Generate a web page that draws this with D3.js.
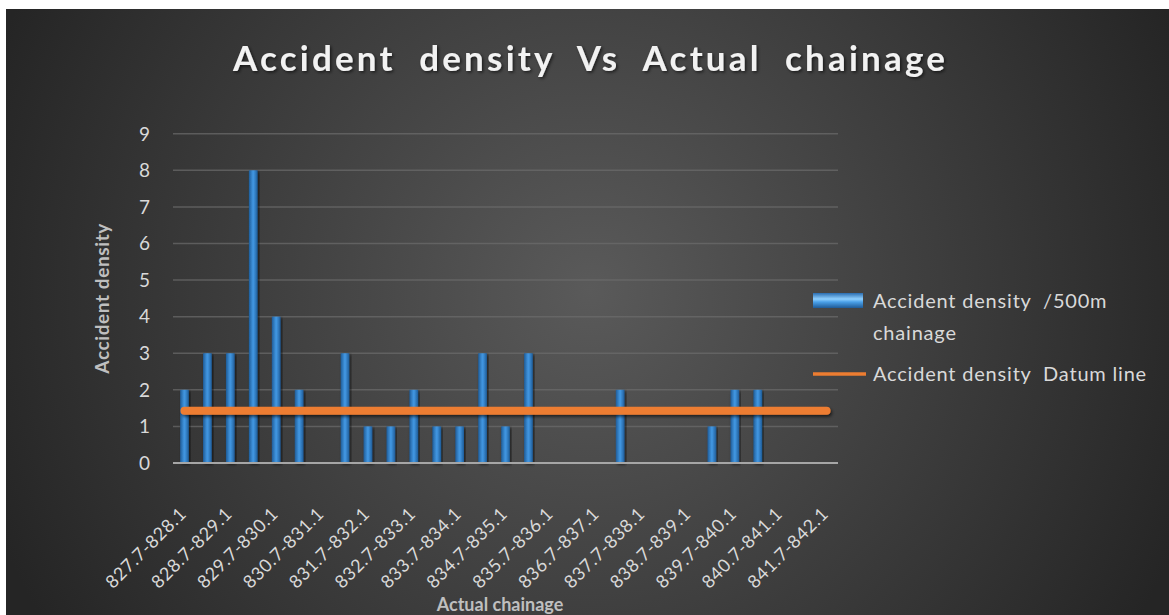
<!DOCTYPE html>
<html>
<head>
<meta charset="utf-8">
<script src="https://cdn.jsdelivr.net/npm/d3@7"></script>
<style>
  body { margin: 0; background: #fff; }
  svg { display: block; font-family: Lato, "Open Sans", sans-serif; }
  text { white-space: pre; }
</style>
</head>
<body>
<svg id="chart" width="1169" height="615"></svg>
<script>
// chainage ranges (every other one is labelled on the axis)
const chainages = [
  "827.7-828.1", "828.2-828.6", "828.7-829.1", "829.2-829.6", "829.7-830.1",
  "830.2-830.6", "830.7-831.1", "831.2-831.6", "831.7-832.1", "832.2-832.6",
  "832.7-833.1", "833.2-833.6", "833.7-834.1", "834.2-834.6", "834.7-835.1",
  "835.2-835.6", "835.7-836.1", "836.2-836.6", "836.7-837.1", "837.2-837.6",
  "837.7-838.1", "838.2-838.6", "838.7-839.1", "839.2-839.6", "839.7-840.1",
  "840.2-840.6", "840.7-841.1", "841.2-841.6", "841.7-842.1"
];
const density = [2, 3, 3, 8, 4, 2, 0, 3, 1, 1, 2, 1, 1, 3, 1, 3, 0, 0, 0, 2, 0, 0, 0, 1, 2, 2, 0, 0, 0];
const datum = 1.43;
const yTicks = [0, 1, 2, 3, 4, 5, 6, 7, 8, 9];

const svg = d3.select("#chart");
const defs = svg.append("defs");

const bg = defs.append("radialGradient").attr("id", "bg")
  .attr("gradientUnits", "userSpaceOnUse")
  .attr("cx", 590).attr("cy", 290).attr("r", 640);
bg.append("stop").attr("offset", 0).attr("stop-color", "#5a5a5a");
bg.append("stop").attr("offset", 1).attr("stop-color", "#252525");

const barGrad = defs.append("linearGradient").attr("id", "barGrad")
  .attr("x1", 0).attr("x2", 1).attr("y1", 0).attr("y2", 0);
barGrad.append("stop").attr("offset", 0).attr("stop-color", "#1f5c98");
barGrad.append("stop").attr("offset", 0.45).attr("stop-color", "#4094de");
barGrad.append("stop").attr("offset", 0.55).attr("stop-color", "#4094de");
barGrad.append("stop").attr("offset", 1).attr("stop-color", "#1f5c98");

const legGrad = defs.append("linearGradient").attr("id", "legGrad")
  .attr("x1", 0).attr("x2", 0).attr("y1", 0).attr("y2", 1);
legGrad.append("stop").attr("offset", 0).attr("stop-color", "#2a6db0");
legGrad.append("stop").attr("offset", 0.4).attr("stop-color", "#8fd0ff");
legGrad.append("stop").attr("offset", 0.6).attr("stop-color", "#4aa0e8");
legGrad.append("stop").attr("offset", 1).attr("stop-color", "#1f5a96");

const shadow = defs.append("filter").attr("id", "shadow")
  .attr("x", "-20%").attr("y", "-20%").attr("width", "140%").attr("height", "140%");
shadow.append("feDropShadow").attr("dx", 1.5).attr("dy", 1.5)
  .attr("stdDeviation", 1.5).attr("flood-color", "#000").attr("flood-opacity", 0.6);

// flat line has a zero-height box, so its shadow needs a fixed region
const lineShadow = defs.append("filter").attr("id", "lineShadow")
  .attr("filterUnits", "userSpaceOnUse")
  .attr("x", 0).attr("y", 0).attr("width", 1169).attr("height", 615);
lineShadow.append("feDropShadow").attr("dx", 1.5).attr("dy", 2)
  .attr("stdDeviation", 1.5).attr("flood-color", "#000").attr("flood-opacity", 0.6);

svg.append("rect")
  .attr("x", 6).attr("y", 9).attr("width", 1163).attr("height", 606)
  .attr("fill", "url(#bg)");

const x = d3.scaleBand()
  .domain(chainages)
  .range([173, 838])
  .paddingInner(0.62)
  .paddingOuter(0.31);

const y = d3.scaleLinear().domain([0, 9]).range([463, 133.7]);

// gridlines
svg.append("g")
  .selectAll("line")
  .data(yTicks.slice(1))
  .join("line")
    .attr("x1", 173).attr("x2", 838)
    .attr("y1", d => y(d)).attr("y2", d => y(d))
    .attr("stroke", "#6c6c6c")
    .attr("stroke-width", 1.5)
    .attr("stroke-opacity", 0.7);

// y axis labels
svg.append("g").attr("class", "axis axis--y")
  .selectAll("text")
  .data(yTicks)
  .join("text")
    .attr("x", 150)
    .attr("y", d => y(d))
    .attr("dy", "0.36em")
    .attr("text-anchor", "end")
    .attr("fill", "#d9d9d9")
    .style("font-size", "19px")
    .text(d => d);

// bars
svg.append("g")
  .selectAll("rect")
  .data(density.map((v, i) => ({ c: chainages[i], v })).filter(d => d.v > 0))
  .join("rect")
    .attr("x", d => x(d.c))
    .attr("y", d => y(d.v))
    .attr("width", x.bandwidth())
    .attr("height", d => y(0) - y(d.v))
    .attr("fill", "url(#barGrad)")
    .attr("filter", "url(#shadow)");

// x axis line
svg.append("line")
  .attr("x1", 173).attr("x2", 838)
  .attr("y1", y(0)).attr("y2", y(0))
  .attr("stroke", "#a6a6a6")
  .attr("stroke-width", 2);

// datum line
const cx = d => x(d) + x.bandwidth() / 2;
svg.append("path")
  .datum(chainages)
  .attr("d", d3.line().x(d => cx(d)).y(() => y(datum)))
  .attr("fill", "none")
  .attr("stroke", "#ed7d31")
  .attr("stroke-width", 8)
  .attr("stroke-linecap", "round")
  .attr("filter", "url(#lineShadow)");

// x axis labels
svg.append("g").attr("class", "axis axis--x")
  .selectAll("text")
  .data(chainages.filter((d, i) => i % 2 === 0))
  .join("text")
    .attr("transform", d => "translate(" + (cx(d) + 3) + "," + (y(0) + 52) + ") rotate(-45)")
    .attr("text-anchor", "end")
    .attr("fill", "#d9d9d9")
    .style("font-size", "18px")
    .style("letter-spacing", "0.6px")
    .text(d => d);

// title
svg.append("text")
  .attr("x", 589).attr("y", 71)
  .attr("text-anchor", "middle")
  .attr("fill", "#f2f2f2")
  .attr("filter", "url(#shadow)")
  .attr("textLength", 712)
  .attr("lengthAdjust", "spacing")
  .style("font-size", "35px")
  .style("font-weight", "bold")
  .text("Accident  density  Vs  Actual  chainage");

// axis titles
svg.append("text")
  .attr("transform", "translate(109," + ((y(0) + y(9)) / 2) + ") rotate(-90)")
  .attr("text-anchor", "middle")
  .attr("fill", "#bfbfbf")
  .style("font-size", "19px")
  .style("font-weight", "bold")
  .style("letter-spacing", "0.6px")
  .text("Accident density");

svg.append("text")
  .attr("x", 500).attr("y", 611)
  .attr("text-anchor", "middle")
  .attr("fill", "#bfbfbf")
  .style("font-size", "18px")
  .style("font-weight", "bold")
  .text("Actual chainage");

// legend
const legend = svg.append("g").attr("fill", "#d9d9d9")
  .style("font-size", "20px").style("letter-spacing", "0.8px");
legend.append("rect")
  .attr("x", 813).attr("y", 293).attr("width", 50).attr("height", 15)
  .attr("fill", "url(#legGrad)");
legend.append("text").attr("x", 873).attr("y", 308).text("Accident density  /500m");
legend.append("text").attr("x", 873).attr("y", 340).text("chainage");
legend.append("line")
  .attr("x1", 813).attr("x2", 866).attr("y1", 374).attr("y2", 374)
  .attr("stroke", "#ed7d31").attr("stroke-width", 3.5);
legend.append("text").attr("x", 873).attr("y", 381).text("Accident density  Datum line");
</script>
</body>
</html>
